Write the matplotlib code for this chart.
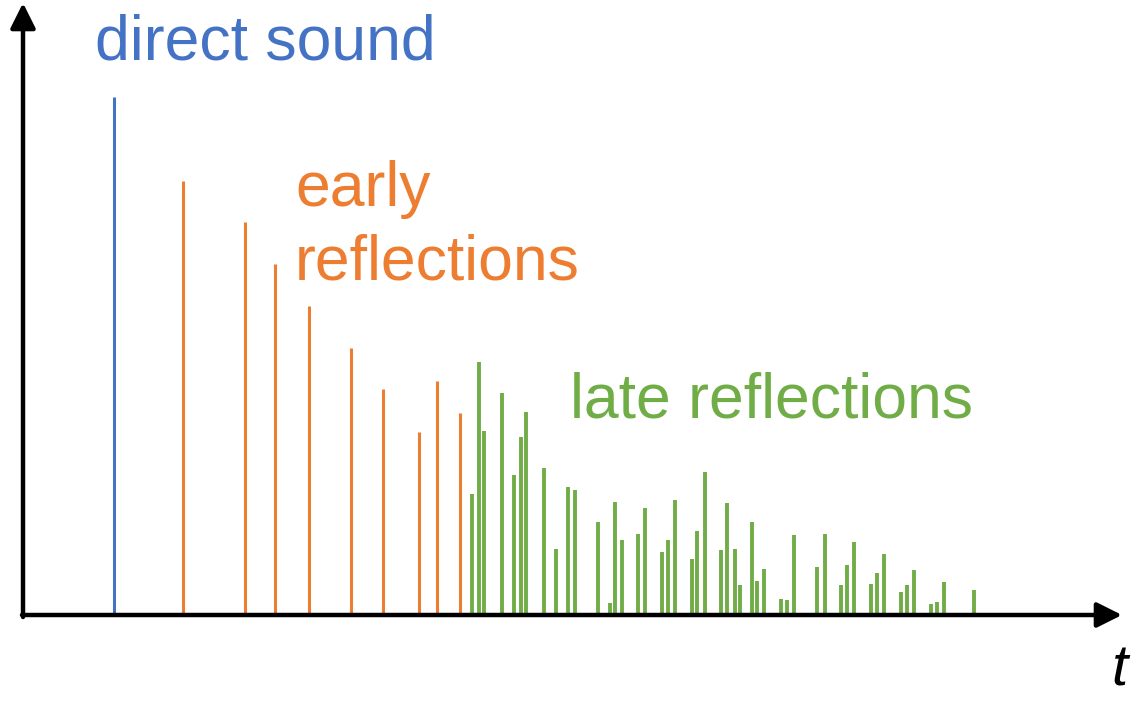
import matplotlib.pyplot as plt

# impulse response sketch: time positions and amplitudes
direct_t = [114]
direct_a = [518]

early_t = [183, 245, 275, 309, 351, 383, 419, 437, 460]
early_a = [434, 393, 351, 309, 267, 226, 183, 234, 202]

late_t = [472, 479, 484, 502, 514, 521, 526, 544, 556, 568, 575, 598, 610, 615,
          622, 638, 645, 662, 668, 675, 692, 697, 705, 721, 727, 735, 740, 752,
          757, 764, 781, 787, 794, 817, 825, 841, 847, 854, 871, 877, 884, 901,
          907, 914, 931, 937, 944, 974]
late_a = [121, 253, 184, 222, 140, 178, 203, 147, 66, 128, 125, 93, 12, 113,
          75, 81, 107, 63, 75, 115, 56, 84, 143, 65, 112, 66, 30, 93,
          34, 46, 16, 15, 80, 48, 81, 30, 50, 73, 31, 42, 61, 23,
          30, 45, 11, 13, 33, 25]

blue = '#4472C4'
orange = '#ED7D31'
green = '#70AD47'

fig = plt.figure(figsize=(11.32, 7.01), dpi=100)
ax = fig.add_axes([0, 0, 1, 1])
ax.set_xlim(0, 1132)
ax.set_ylim(-86, 615)
ax.axis('off')

ax.vlines(direct_t, 0, direct_a, color=blue, lw=2.2)
ax.vlines(early_t, 0, early_a, color=orange, lw=2.2)
ax.vlines(late_t, 0, late_a, color=green, lw=2.8)

# axes with arrow heads
ax.annotate('', xy=(1122, 0), xytext=(22, 0),
            arrowprops=dict(arrowstyle='-|>', lw=3.2, color='black',
                            mutation_scale=38, shrinkA=0, shrinkB=0))
ax.annotate('', xy=(23, 612), xytext=(23, -2),
            arrowprops=dict(arrowstyle='-|>', lw=3.2, color='black',
                            mutation_scale=38, shrinkA=0, shrinkB=0))

fs = 45
ax.text(95, 555, 'direct sound', color=blue, fontsize=fs,
        family='Liberation Sans', va='baseline')
ax.text(295, 409, 'early', color=orange, fontsize=fs,
        family='Liberation Sans', va='baseline')
ax.text(295, 336, 'reflections', color=orange, fontsize=fs,
        family='Liberation Sans', va='baseline')
ax.text(570, 198, 'late reflections', color=green, fontsize=fs,
        family='Liberation Sans', va='baseline')
ax.text(1111, -70, 't', color='black', fontsize=42, style='italic',
        family='Liberation Sans', va='baseline')

fig.savefig('out.png', dpi=100)
